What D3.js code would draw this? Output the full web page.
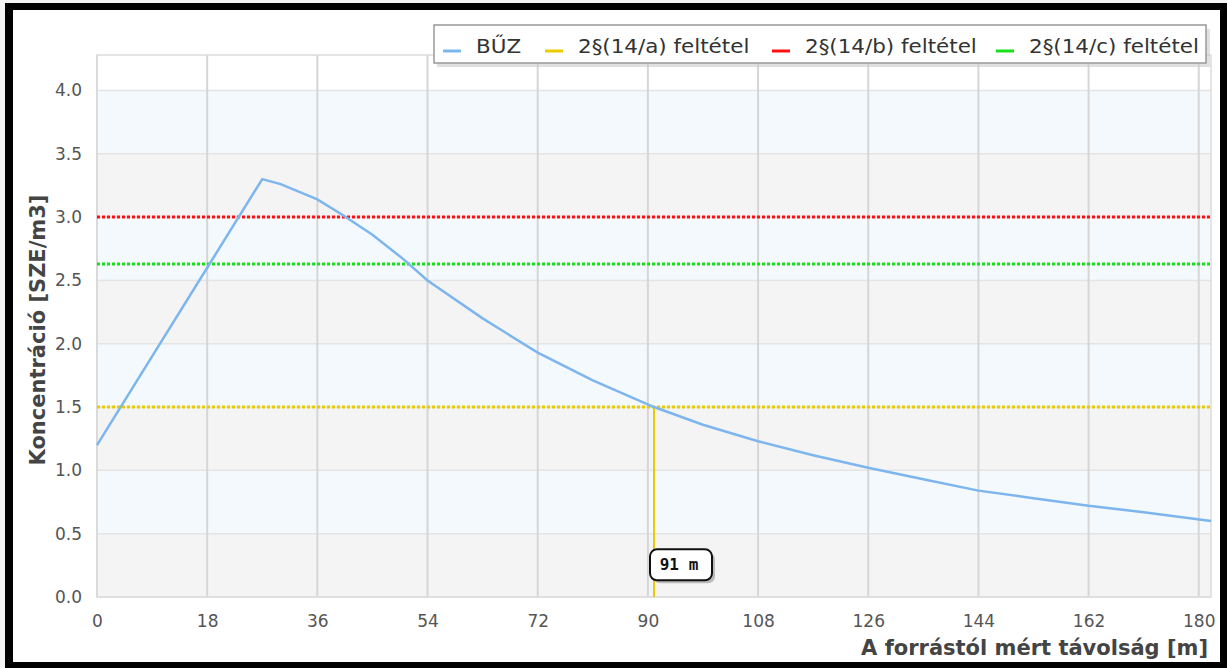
<!DOCTYPE html>
<html>
<head>
<meta charset="utf-8">
<script src="https://cdn.jsdelivr.net/npm/d3@7"></script>
<style>
  body { margin: 0; background: #fff; }
  text { font-family: "DejaVu Sans", Verdana, sans-serif; }
</style>
</head>
<body>
<script>
// distance from source [m] and concentration [SZE/m3]
var distances = [0, 9, 18, 27, 30, 36, 40, 45, 50, 54, 63, 72, 81, 91, 99, 108, 117, 126, 135, 144, 153, 162, 171, 182];
var concentration = [1.2, 1.9, 2.6, 3.3, 3.26, 3.14, 3.02, 2.86, 2.67, 2.5, 2.2, 1.93, 1.71, 1.5, 1.36, 1.23, 1.12, 1.02, 0.93, 0.84, 0.78, 0.72, 0.67, 0.6];

var xTicks = [0, 18, 36, 54, 72, 90, 108, 126, 144, 162, 180];
var yTicks = [0, 0.5, 1, 1.5, 2, 2.5, 3, 3.5, 4];

var limitNames = ['2§(14/a) feltétel', '2§(14/b) feltétel', '2§(14/c) feltétel'];
var limitValues = [1.5, 3.0, 2.63];
var limitColors = ['#e8cb00', '#ff1010', '#19e019'];

var crossDistance = 91;   // where BŰZ drops under the 14/a limit

var W = 1227, H = 668;

var svg = d3.select('body').append('svg')
    .attr('width', W)
    .attr('height', H);

// black frame round the screenshot
svg.append('rect').attr('x', 0).attr('y', 0).attr('width', W).attr('height', H).attr('fill', '#f4f4f4');
svg.append('rect').attr('x', 5).attr('y', 3).attr('width', W - 5).attr('height', H - 3).attr('fill', '#000');
svg.append('rect').attr('x', 13).attr('y', 10).attr('width', 1207).attr('height', 652).attr('fill', '#fff');

let x = d3.scaleLinear().domain([0, 182]).range([97, 1211]);
let y = d3.scaleLinear().domain([0, 4.28]).range([597, 55]);

// plot background + alternating bands
svg.append('rect')
   .attr('x', x(0)).attr('y', y(4.28))
   .attr('width', x(182) - x(0)).attr('height', y(0) - y(4.28))
   .attr('fill', '#fff');

let bands = d3.range(0, 8);
svg.selectAll('.band')
   .data(bands)
   .enter()
   .append('rect')
   .attr('class', 'band')
   .attr('x', x(0))
   .attr('width', x(182) - x(0))
   .attr('y', (i) => y((i + 1) * 0.5))
   .attr('height', (i) => y(i * 0.5) - y((i + 1) * 0.5))
   .attr('fill', (i) => i % 2 == 0 ? '#f4f4f4' : '#f4f9fd');

// grid
svg.append('g')
   .selectAll('line')
   .data(yTicks)
   .enter()
   .append('line')
   .attr('x1', x(0)).attr('x2', x(182))
   .attr('y1', (d) => y(d)).attr('y2', (d) => y(d))
   .attr('stroke', '#e4e4e4').attr('stroke-width', 1.5);

svg.append('g')
   .selectAll('line')
   .data(xTicks)
   .enter()
   .append('line')
   .attr('x1', (d) => x(d)).attr('x2', (d) => x(d))
   .attr('y1', y(0)).attr('y2', y(4.28))
   .attr('stroke', '#d6d6d6').attr('stroke-width', 2);

// plot border
svg.append('rect')
   .attr('x', x(0)).attr('y', y(4.28))
   .attr('width', x(182) - x(0)).attr('height', y(0) - y(4.28))
   .attr('fill', 'none').attr('stroke', '#dcdcdc').attr('stroke-width', 1.5);

// axes (labels only)
let xAxis = svg.append('g')
   .attr('transform', `translate(0,${y(0)})`)
   .call(d3.axisBottom(x).tickValues(xTicks).tickSize(0).tickPadding(18).tickFormat(d3.format('d')));
let yAxis = svg.append('g')
   .attr('transform', `translate(${x(0)},0)`)
   .call(d3.axisLeft(y).tickValues(yTicks).tickSize(0).tickPadding(15).tickFormat(d3.format('.1f')));
[xAxis, yAxis].forEach((a) => {
    a.select('.domain').remove();
    a.selectAll('text')
     .style('font-family', '"DejaVu Sans", sans-serif')
     .style('font-size', '17px')
     .attr('fill', '#555');
});

// limit lines (dotted)
svg.append('g')
   .selectAll('line')
   .data(limitValues)
   .enter()
   .append('line')
   .attr('x1', x(0)).attr('x2', x(182))
   .attr('y1', (d) => y(d)).attr('y2', (d) => y(d))
   .attr('stroke', (d, i) => limitColors[i])
   .attr('stroke-width', 3)
   .attr('stroke-dasharray', '3,2');

// vertical marker where the curve crosses 14/a
svg.append('line')
   .attr('x1', x(crossDistance)).attr('x2', x(crossDistance))
   .attr('y1', y(limitValues[0])).attr('y2', y(0))
   .attr('stroke', limitColors[0]).attr('stroke-width', 2);

// BŰZ curve
let line = d3.line()
   .x((d, i) => x(distances[i]))
   .y((d) => y(d));
svg.append('path')
   .datum(concentration)
   .attr('d', line)
   .attr('fill', 'none')
   .attr('stroke', '#7db6ee')
   .attr('stroke-width', 2.5);

// 91 m label
let lx = x(crossDistance) - 4, ly = y(0.25) - 16;
svg.append('rect')
   .attr('x', lx + 3).attr('y', ly + 3).attr('width', 62).attr('height', 31)
   .attr('rx', 7).attr('fill', '#bbb');
svg.append('rect')
   .attr('x', lx).attr('y', ly).attr('width', 62).attr('height', 31)
   .attr('rx', 7).attr('fill', '#fff').attr('stroke', '#111').attr('stroke-width', 2);
svg.append('text')
   .attr('x', lx + 29).attr('y', ly + 21)
   .attr('text-anchor', 'middle')
   .style('font-family', '"DejaVu Sans Mono", monospace')
   .style('font-weight', 'bold')
   .style('font-size', '16px')
   .attr('fill', '#111')
   .text(crossDistance + ' m');

// axis titles
svg.append('text')
   .attr('x', 1208).attr('y', 655)
   .attr('text-anchor', 'end')
   .style('font-weight', 'bold')
   .style('font-size', '21px')
   .attr('fill', '#444')
   .text('A forrástól mért távolság [m]');
svg.append('text')
   .attr('transform', 'translate(45,330) rotate(-90)')
   .attr('text-anchor', 'middle')
   .style('font-weight', 'bold')
   .style('font-size', '21px')
   .attr('fill', '#444')
   .text('Koncentráció [SZE/m3]');

// legend
let legendNames = ['BŰZ'].concat(limitNames);
let legendColors = ['#7db6ee'].concat(limitColors);
let legendX = [443, 545, 772, 996];

svg.append('rect').attr('x', 437).attr('y', 29).attr('width', 773).attr('height', 38).attr('fill', '#ccc').attr('opacity', 0.6);
svg.append('rect').attr('x', 434).attr('y', 25).attr('width', 772).attr('height', 38)
   .attr('fill', '#fff').attr('stroke', '#999').attr('stroke-width', 1.5);

let items = svg.selectAll('.leg')
   .data(legendNames)
   .enter()
   .append('g')
   .attr('class', 'leg')
   .attr('transform', (d, i) => `translate(${legendX[i]},46)`);
items.append('line')
   .attr('x1', 0).attr('x2', 18).attr('y1', 5).attr('y2', 5)
   .attr('stroke', (d, i) => legendColors[i]).attr('stroke-width', 3);
items.append('text')
   .attr('transform', 'translate(33,7) scale(1.1,1)')
   .style('font-size', '19.5px')
   .attr('fill', '#333')
   .text((d) => d);
</script>
</body>
</html>
